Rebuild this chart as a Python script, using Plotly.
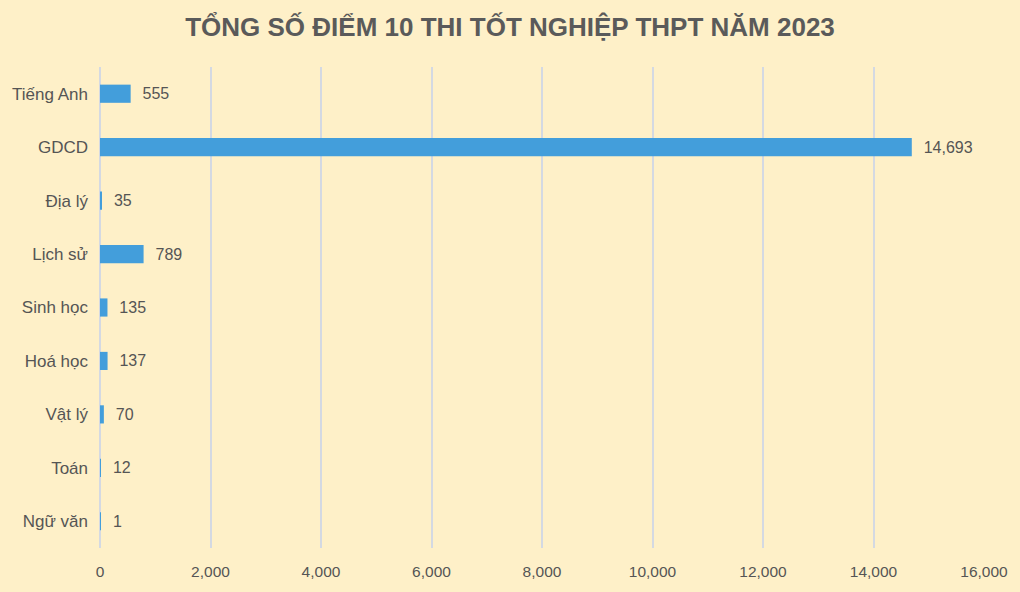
import plotly.graph_objects as go

subjects = ["Tiếng Anh", "GDCD", "Địa lý", "Lịch sử", "Sinh học", "Hoá học", "Vật lý", "Toán", "Ngữ văn"]
counts = [555, 14693, 35, 789, 135, 137, 70, 12, 1]
tick_vals = [0, 2000, 4000, 6000, 8000, 10000, 12000, 14000, 16000]

bg = "#FEF0C8"
txt = "#555555"
font_main = "Liberation Sans, Arial, Helvetica, sans-serif"

fig = go.Figure(go.Bar(
    x=counts, y=subjects, orientation="h",
    marker=dict(color="#439EDB", line=dict(width=0)),
    width=0.34,
    text=[f"\u00a0\u00a0{v:,}" for v in counts], textposition="outside",
    textfont=dict(family=font_main, size=16, color=txt),
    cliponaxis=False,
    hoverinfo="skip",
))

fig.update_layout(
    width=1020, height=592,
    paper_bgcolor=bg, plot_bgcolor=bg,
    margin=dict(l=97, r=30, t=67, b=43),
    title=dict(text="<b>TỔNG SỐ ĐIỂM 10 THI TỐT NGHIỆP THPT NĂM 2023</b>",
               x=0.5, xanchor="center", y=0.955, yanchor="middle",
               font=dict(family="Liberation Sans Narrow, Arial Narrow, Liberation Sans, sans-serif", size=26, color="#5A5A5A")),
    showlegend=False,
)
fig.update_xaxes(range=[0, 16000], tickvals=tick_vals, tickformat=",d",
                 showgrid=True, gridcolor="#D4D9E2", gridwidth=1.5,
                 zeroline=True, zerolinecolor="#D4D9E2", zerolinewidth=1.5,
                 showline=False, ticks="", ticklabelstandoff=12,
                 tickfont=dict(family=font_main, size=15.5, color=txt))
fig.update_yaxes(autorange="reversed", showgrid=False, showline=False, ticks="",
                 ticklabelstandoff=11,
                 tickfont=dict(family=font_main, size=17, color=txt))

fig.write_html("out.html", config={"displayModeBar": False},
               post_script="document.body.style.margin='0';document.body.style.background='" + bg + "';")
